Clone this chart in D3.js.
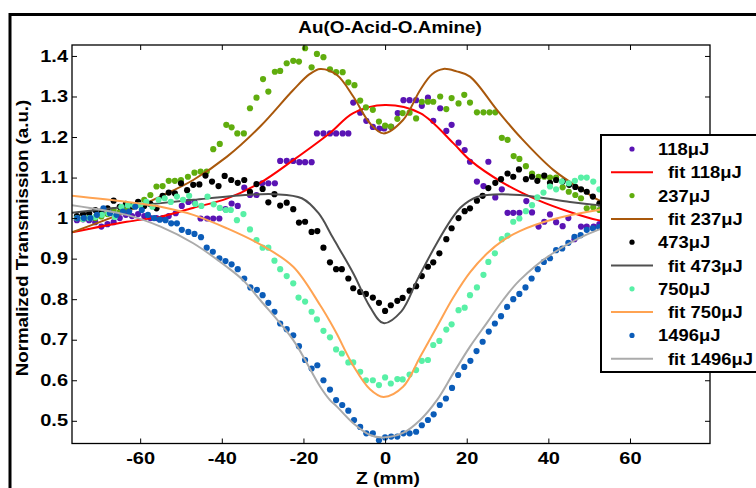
<!DOCTYPE html>
<html><head><meta charset="utf-8">
<script src="https://cdn.jsdelivr.net/npm/d3@7"></script>
<style>
body{margin:0;background:#fff}
text{font-family:"Liberation Sans",Arial,sans-serif;font-weight:bold;fill:#000}
</style>
</head><body><svg id="c" width="756" height="488"></svg>
<script>
// ---------------- data ----------------
const xTicks = [-60,-40,-20,0,20,40,60];
const yTicks = [0.5,0.6,0.7,0.8,0.9,1.0,1.1,1.2,1.3,1.4];
const titleText = "Au(O-Acid-O.Amine)";
const xLabel = "Z (mm)";
const yLabel = "Normalized Transmission (a.u.)";
const seriesNames = ["118μJ","237μJ","473μJ","750μJ","1496μJ"];
const fitNames = ["fit 118μJ","fit 237μJ","fit 473μJ","fit 750μJ","fit 1496μJ"];
const dotColors = ["#5a14b4","#60ad0e","#000000","#58f0a6","#0b5cb8"];
const fitColors = ["#ff0000","#a9580c","#505050","#ffa352","#ababab"];

const d118 = [[-75.5,0.995],[-74,0.997],[-72.5,0.995],[-71,0.99],[-69.5,0.979],[-68,0.985],[-66.5,0.99],[-65,1.0],[-63.5,1.008],[-62,1.005],[-60.5,1.01],[-59,1.005],[-57.5,1.0],[-56,1.0],[-54.5,1.0],[-53,1.005],[-51.3,1.012],[-49.8,1.03],[-48.2,1.04],[-46.7,1.039],[-45.2,0.999],[-43.6,0.999],[-42.1,0.999],[-40.6,0.999],[-39.1,1.022],[-37.6,1.036],[-36.1,1.03],[-34.5,1.075],[-33.1,1.057],[-31.5,1.057],[-30.1,1.086],[-28.6,1.086],[-27,1.086],[-25.7,1.141],[-24.1,1.141],[-22.5,1.141],[-21,1.138],[-19.6,1.138],[-18,1.138],[-16.7,1.209],[-15.1,1.209],[-13.5,1.209],[-12,1.209],[-10.4,1.209],[-9,1.209],[-7.8,1.285],[-6.1,1.26],[-4.6,1.24],[-3,1.225],[-1.4,1.221],[-0.2,1.221],[1.5,1.225],[3.1,1.259],[4.5,1.291],[6,1.291],[7.6,1.291],[9,1.277],[10.5,1.297],[11.8,1.24],[13.5,1.271],[15,1.215],[16.3,1.23],[18,1.186],[19.5,1.168],[20.8,1.139],[22.5,1.09],[24.1,1.079],[25.3,1.139],[27,1.051],[28.6,1.071],[30,1.013],[31.4,1.013],[32.9,1.013],[34.6,1.042],[36,1.014],[37.6,0.979],[39,0.991],[40.4,1.009],[41.9,0.99],[43.5,0.98],[44.9,1.0],[46.4,0.948],[48,0.979],[49.4,0.979],[51.1,0.979],[52.5,0.985]];

const d237 = [[-75.5,1.0],[-74,0.998],[-72.5,1.002],[-71,1.0],[-69.5,1.004],[-68,1.01],[-66.5,1.02],[-65,1.015],[-63.5,1.025],[-62,1.028],[-60.5,1.035],[-59,1.045],[-57.5,1.057],[-56,1.078],[-54.5,1.079],[-53,1.092],[-51.5,1.092],[-50,1.094],[-48.3,1.102],[-46.7,1.112],[-45.2,1.115],[-43.7,1.115],[-42.1,1.17],[-40.5,1.183],[-38.9,1.23],[-37.6,1.224],[-36.2,1.209],[-34.6,1.209],[-33.1,1.271],[-31.5,1.297],[-29.9,1.343],[-28.6,1.312],[-27,1.361],[-25.7,1.363],[-24.1,1.382],[-22.5,1.388],[-21.1,1.386],[-19.6,1.419],[-18,1.372],[-16.7,1.405],[-15.1,1.397],[-13.5,1.367],[-12,1.36],[-10.4,1.36],[-9,1.335],[-7.5,1.328],[-6.1,1.29],[-4.7,1.273],[-3,1.267],[-1.5,1.238],[0,1.228],[1.4,1.226],[3,1.245],[4.3,1.259],[6,1.26],[7.6,1.246],[9,1.287],[10.5,1.287],[11.8,1.287],[13.5,1.3],[15,1.269],[16.3,1.296],[18,1.283],[19.4,1.304],[20.8,1.285],[22.5,1.261],[24.1,1.261],[25.6,1.261],[27,1.261],[28.6,1.198],[30,1.193],[31.5,1.153],[32.9,1.146],[34.5,1.128],[36,1.11],[37.6,1.102],[39,1.102],[40.4,1.1],[41.9,1.1],[43.5,1.076],[45,1.065],[46.6,1.057],[48,1.049],[49.4,1.024],[51,1.027],[52.5,1.02]];

const d473 = [[-75.5,1.005],[-74,1.01],[-72.5,1.012],[-71,1.02],[-69.5,1.015],[-68,1.024],[-66.5,1.043],[-65,1.028],[-63.5,1.035],[-62,1.03],[-60.5,1.04],[-59,1.03],[-57.5,1.035],[-56,1.024],[-54.5,1.055],[-53,1.063],[-51.5,1.061],[-50,1.086],[-48.5,1.069],[-47,1.082],[-45.5,1.083],[-44,1.105],[-42.4,1.09],[-40.8,1.079],[-39.3,1.104],[-37.7,1.094],[-36.1,1.087],[-34.5,1.094],[-33.1,1.065],[-31.5,1.084],[-30,1.072],[-28.6,1.039],[-27.1,1.059],[-25.7,1.031],[-24.1,1.038],[-22.5,1.022],[-21.1,0.989],[-19.6,0.991],[-18,0.966],[-16.6,0.968],[-15.1,0.927],[-13.5,0.891],[-12,0.874],[-10.6,0.874],[-9,0.851],[-7.8,0.827],[-6.1,0.818],[-4.7,0.813],[-3,0.804],[-1.5,0.791],[0,0.771],[1.4,0.785],[3,0.796],[4.3,0.803],[6,0.821],[7.6,0.832],[9,0.857],[10.5,0.88],[11.8,0.891],[13.3,0.913],[15,0.948],[16.3,0.975],[18,1.0],[19.5,1.017],[20.8,1.024],[22.5,1.043],[23.9,1.055],[25.3,1.074],[27,1.087],[28.4,1.096],[30,1.11],[31.4,1.102],[32.8,1.12],[34.5,1.096],[36,1.102],[37.3,1.092],[39,1.105],[40.4,1.087],[41.9,1.094],[43.5,1.09],[45.1,1.082],[46.6,1.077],[48,1.071],[49.4,1.065],[50.9,1.053],[52.5,1.036]];

const d750 = [[-75.5,1.0],[-74,0.998],[-72.5,1.0],[-71,1.003],[-69.4,1.008],[-67.8,1.012],[-66.2,1.003],[-64.6,1.028],[-63,1.032],[-61.5,1.031],[-60,1.032],[-58.5,1.04],[-57,1.028],[-55.5,1.045],[-54,1.049],[-52.5,1.04],[-51,1.053],[-49.5,1.045],[-48,1.055],[-46.5,1.035],[-45,1.03],[-43.5,1.053],[-42,1.034],[-40.5,1.025],[-39,1.02],[-37.8,1.02],[-36.3,0.995],[-34.7,1.01],[-33.1,0.972],[-31.5,0.946],[-30,0.927],[-28.6,0.927],[-27.1,0.895],[-25.7,0.874],[-24.1,0.857],[-22.5,0.839],[-21.2,0.804],[-19.6,0.794],[-18,0.769],[-16.7,0.75],[-15.1,0.722],[-13.5,0.706],[-12,0.676],[-10.6,0.666],[-9,0.644],[-7.8,0.644],[-6.1,0.621],[-4.7,0.6],[-3,0.6],[-1.5,0.588],[0,0.607],[1.4,0.592],[3,0.603],[4.3,0.602],[6,0.614],[7.6,0.625],[9,0.648],[10.5,0.65],[11.8,0.687],[13.3,0.697],[15,0.725],[16.3,0.738],[18,0.773],[19.5,0.779],[20.8,0.81],[22.5,0.829],[24.1,0.86],[25.3,0.892],[26.9,0.913],[28.6,0.948],[30,0.957],[31.4,0.991],[32.9,0.999],[34.5,1.017],[36,1.032],[37.3,1.051],[38.8,1.063],[40.4,1.078],[41.9,1.071],[43.3,1.09],[45,1.086],[46.5,1.092],[48,1.1],[49.4,1.1],[51,1.09],[52.5,1.071],[54,1.08]];

const d1496 = [[-75.4,1.0],[-73.8,1.0],[-72.2,1.0],[-70.6,1.008],[-69,1.024],[-67.4,1.012],[-65.8,1.008],[-64.2,1.016],[-62.7,1.016],[-61.2,1.028],[-59.6,1.02],[-58.1,1.008],[-56.6,1.0],[-55.2,0.996],[-53.8,0.995],[-52.4,0.987],[-51,0.987],[-49.8,0.971],[-48.2,0.966],[-46.7,0.961],[-45.1,0.953],[-43.7,0.927],[-42.2,0.917],[-40.6,0.901],[-39.1,0.894],[-37.6,0.886],[-36.1,0.874],[-34.5,0.851],[-33,0.829],[-31.4,0.823],[-30,0.81],[-28.6,0.791],[-27.1,0.769],[-25.7,0.74],[-24.1,0.726],[-22.5,0.711],[-21.1,0.684],[-19.6,0.65],[-18,0.629],[-16.6,0.637],[-15.1,0.6],[-13.5,0.577],[-12,0.551],[-10.5,0.539],[-9,0.525],[-7.6,0.502],[-6.1,0.485],[-4.6,0.469],[-3,0.469],[-1.5,0.452],[0,0.459],[1.5,0.461],[3,0.461],[4.5,0.469],[6,0.469],[7.6,0.473],[9,0.489],[10.5,0.502],[11.9,0.516],[13.4,0.539],[14.9,0.555],[16.4,0.581],[17.9,0.613],[19.4,0.633],[20.9,0.648],[22.4,0.672],[23.9,0.695],[25.4,0.72],[26.9,0.74],[28.4,0.758],[29.9,0.781],[31.4,0.8],[32.9,0.813],[34.4,0.829],[35.9,0.851],[37.4,0.874],[38.9,0.892],[40.4,0.901],[41.9,0.921],[43.4,0.925],[44.9,0.939],[46.4,0.954],[47.9,0.958],[49.4,0.971],[50.9,0.975],[52.4,0.978],[53.9,0.985]];

const f118 = [[-76.7,0.965],[-63.3,0.991],[-55.1,1.003],[-47.1,1.025],[-38.8,1.048],[-30.6,1.087],[-22.5,1.143],[-13.5,1.21],[-7.8,1.259],[0,1.279],[8.6,1.259],[16.7,1.185],[20.8,1.143],[28.9,1.087],[37.3,1.045],[45.3,1.015],[52.2,0.995],[60,0.985],[70,0.975],[79.6,0.965]];
const f237 = [[-76.7,0.965],[-63.3,1.016],[-55.1,1.053],[-47,1.094],[-38.8,1.151],[-30.6,1.226],[-22.5,1.316],[-18.5,1.355],[-15.9,1.368],[-11.8,1.353],[-7.8,1.3],[-3.7,1.234],[-0.4,1.209],[4.4,1.242],[8.6,1.316],[11.5,1.355],[14.3,1.368],[17.5,1.362],[20.8,1.349],[27.4,1.267],[33.1,1.2],[41.2,1.119],[49.5,1.062],[52.2,1.045],[60,1.015],[70,0.985],[79.6,0.965]];
const f473 = [[-76.7,1.013],[-63.3,1.028],[-47,1.045],[-34.3,1.057],[-27,1.059],[-20.4,1.049],[-16.3,1.012],[-12.7,0.95],[-7.8,0.864],[-3.7,0.781],[-0.4,0.741],[4,0.77],[8,0.85],[12.5,0.935],[16.3,0.998],[18.5,1.026],[20.5,1.042],[22.5,1.052],[25,1.057],[33,1.057],[45.3,1.04],[52.2,1.032],[60,1.025],[70,1.018],[79.6,1.013]];
const f750 = [[-76.7,1.055],[-63.3,1.04],[-55,1.028],[-47,1.008],[-38.8,0.975],[-30.6,0.935],[-22.5,0.88],[-15.9,0.785],[-13.5,0.745],[-11.8,0.714],[-7.8,0.636],[-3.7,0.578],[-0.4,0.559],[4.4,0.584],[8.6,0.658],[12.7,0.732],[16.7,0.804],[20.8,0.866],[24.9,0.912],[28.9,0.945],[33,0.968],[41.2,0.997],[52.2,1.02],[60,1.03],[70,1.04],[79.6,1.045]];
const f1496 = [[-76.7,1.032],[-63.3,1.008],[-55,0.979],[-47,0.938],[-38.8,0.88],[-34.8,0.847],[-30.6,0.798],[-22.5,0.699],[-15.9,0.584],[-13.5,0.551],[-11.8,0.535],[-7.8,0.494],[-3.7,0.465],[-0.4,0.459],[4.4,0.47],[8.6,0.502],[12.7,0.551],[16.7,0.617],[20.8,0.683],[24.9,0.741],[28.9,0.798],[33,0.847],[41.2,0.914],[52.2,0.971],[60,0.99],[70,1.01],[79.6,1.025]];

// ---------------- chart ----------------
const dotSets = [d118,d237,d473,d750,d1496];
const fitSets = [f118,f237,f473,f750,f1496];
const svg = d3.select("#c");
const L=72,R=710,T=45,B=443.5;
const x = d3.scaleLinear().domain([-76.7,79.6]).range([L,R]);
const y = d3.scaleLinear().domain([0.444,1.427]).range([B,T]);
const FS = 16;

// outer figure frame
svg.append("rect").attr("x",10).attr("y",14.5).attr("width",800).attr("height",500)
  .attr("fill","none").attr("stroke","#000").attr("stroke-width",3);

// title
svg.append("text").text(titleText).attr("text-anchor","middle")
  .attr("font-size",FS).attr("transform","translate(390,33) scale(1.18,1)");

// clip
svg.append("clipPath").attr("id","clip").append("rect")
  .attr("x",L).attr("y",T).attr("width",R-L).attr("height",B-T);
const plot = svg.append("g").attr("clip-path","url(#clip)");

const line = d3.line().x(d=>x(d[0])).y(d=>y(d[1])).curve(d3.curveCatmullRom.alpha(0.5));
for(let i=0;i<5;i++){
  plot.append("g").selectAll("circle").data(dotSets[i]).join("circle")
    .attr("cx",d=>x(d[0])).attr("cy",d=>y(d[1])).attr("r",3.1).attr("fill",dotColors[i]);
  plot.append("path").datum(fitSets[i]).attr("d",line).attr("fill","none")
    .attr("stroke",fitColors[i]).attr("stroke-width",2);
}

// axes
function styleTicks(g, sx){
  g.attr("font-size",FS).attr("font-family",null);
  g.selectAll(".tick line").attr("stroke","#000").attr("stroke-width",1);
  g.selectAll(".domain").remove();
  g.selectAll(".tick text").each(function(){
    const t=d3.select(this); const tx=+t.attr("x")||0;
    t.attr("x",tx/sx).attr("transform",`scale(${sx},1)`);
  });
}
const gB = svg.append("g").attr("transform",`translate(0,${B})`)
  .call(d3.axisBottom(x).tickValues(xTicks).tickSizeInner(-5).tickSizeOuter(0).tickPadding(9).tickFormat(d=>String(d)));
styleTicks(gB,1.25);
const gT = svg.append("g").attr("transform",`translate(0,${T})`)
  .call(d3.axisTop(x).tickValues(xTicks).tickSizeInner(-5).tickSizeOuter(0).tickFormat(""));
styleTicks(gT,1);
const gL = svg.append("g").attr("transform",`translate(${L},0)`)
  .call(d3.axisLeft(y).tickValues(yTicks).tickSizeInner(-5).tickSizeOuter(0).tickPadding(4).tickFormat(d=>Math.abs(d-1)<1e-9?"1":d.toFixed(1)));
styleTicks(gL,1.25);
const gR = svg.append("g").attr("transform",`translate(${R},0)`)
  .call(d3.axisRight(y).tickValues(yTicks).tickSizeInner(-5).tickSizeOuter(0).tickFormat(""));
styleTicks(gR,1);

// plot frame
svg.append("rect").attr("x",L).attr("y",T).attr("width",R-L).attr("height",B-T)
  .attr("fill","none").attr("stroke","#000").attr("stroke-width",1.3);

// axis labels
svg.append("text").text(xLabel).attr("text-anchor","middle").attr("font-size",FS)
  .attr("transform","translate(388,484) scale(1.2,1)");
svg.append("text").text(yLabel).attr("text-anchor","middle").attr("font-size",FS)
  .attr("transform","translate(27.5,238) rotate(-90) scale(1.17,1)");

// legend
const lg = svg.append("g");
lg.append("rect").attr("x",601).attr("y",135).attr("width",200).attr("height",237)
  .attr("fill","#fff").attr("stroke","#000").attr("stroke-width",2);
for(let i=0;i<5;i++){
  const y1 = 149 + (2*i)*23.3, y2 = 149 + (2*i+1)*23.3;
  lg.append("circle").attr("cx",632).attr("cy",y1).attr("r",2.6).attr("fill",dotColors[i]);
  lg.append("text").text(seriesNames[i]).attr("font-size",FS)
    .attr("transform",`translate(658,${y1+6}) scale(1.15,1)`);
  lg.append("line").attr("x1",611).attr("x2",653).attr("y1",y2).attr("y2",y2)
    .attr("stroke",fitColors[i]).attr("stroke-width",2);
  lg.append("text").text(fitNames[i]).attr("font-size",FS)
    .attr("transform",`translate(668,${y2+6}) scale(1.15,1)`);
}
</script>
</body></html>
